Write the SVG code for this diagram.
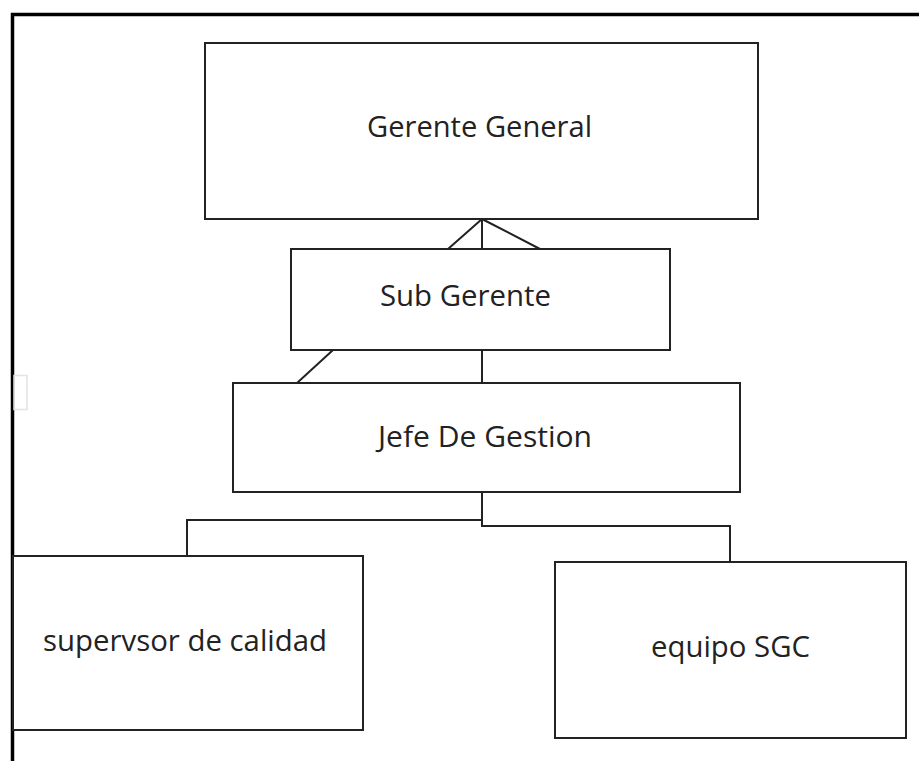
<svg xmlns="http://www.w3.org/2000/svg" width="919" height="761" viewBox="0 0 919 761">
<style>
.box{fill:#fff;stroke:#222;stroke-width:2}
.lbl{font-family:"Open Sans","Noto Sans",sans-serif;font-size:29px;fill:#222}
.con{fill:none;stroke:#222;stroke-width:2}
</style>
<rect width="919" height="761" fill="#fff"/>
<g id="frame">
<path d="M12.5 761V14.5H919" fill="none" stroke="#000" stroke-width="3.5"/>
<rect x="14" y="375.5" width="13" height="34" fill="none" stroke="#e3e3e3" stroke-width="1.5"/>
</g>
<g id="connectors">
<path class="con" d="M482 219L448 249M482 219V249M482 219L540 249"/>
<path class="con" d="M333 350L297 383M482 350V383"/>
<path class="con" d="M482 492V526H730V562M482 520H187V556"/>
</g>
<g id="gerente-general">
<rect class="box" x="205" y="43" width="553" height="176"/>
<text class="lbl" x="367" y="137" textLength="225" lengthAdjust="spacingAndGlyphs">Gerente General</text>
</g>
<g id="sub-gerente">
<rect class="box" x="291" y="249" width="379" height="101"/>
<text class="lbl" x="380" y="306" textLength="171" lengthAdjust="spacingAndGlyphs">Sub Gerente</text>
</g>
<g id="jefe-de-gestion">
<rect class="box" x="233" y="383" width="507" height="109"/>
<text class="lbl" x="378" y="447" textLength="214" lengthAdjust="spacingAndGlyphs">Jefe De Gestion</text>
</g>
<g id="supervisor">
<rect class="box" x="13" y="556" width="350" height="174"/>
<text class="lbl" x="43" y="651" textLength="284" lengthAdjust="spacingAndGlyphs">supervsor de calidad</text>
</g>
<g id="equipo-sgc">
<rect class="box" x="555" y="562" width="351" height="176"/>
<text class="lbl" x="651" y="657" textLength="159" lengthAdjust="spacingAndGlyphs">equipo SGC</text>
</g>
</svg>
